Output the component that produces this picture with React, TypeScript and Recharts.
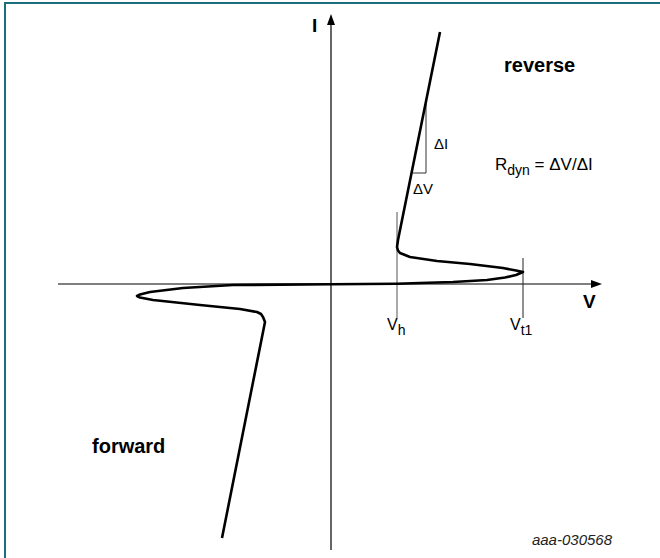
import React from "react";
import { ComposedChart, Line, XAxis, YAxis, ReferenceLine, ReferenceDot } from "recharts";

// Units: V and I in arbitrary diagram units (origin at the axes crossing)
const reverseV = [10.9, 6.7, 6.6, 6.7, 6.9, 7.9, 10.6, 13.9, 17.2, 18.5, 19.2];
const reverseI = [25.2, 4.4, 3.7, 3.35, 3.1, 2.7, 2.3, 2.0, 1.6, 1.35, 1.2];
const returnV = [18.5, 17.4, 15.6, 12.2, 8.9, 6.6, 0, -9.8, -14.8, -18.1, -19.1, -19.4];
const returnI = [0.9, 0.65, 0.4, 0.2, 0.1, 0.03, -0.03, -0.1, -0.4, -0.8, -1.05, -1.2];
const forwardV = [-19.1, -17.8, -13.1, -9.1, -7.4, -7.0, -6.8, -6.6, -10.9];
const forwardI = [-1.35, -1.6, -2.1, -2.5, -2.8, -3.0, -3.3, -3.8, -25.4];

const V_H = 6.6;
const V_T1 = 19.2;
const X_DOMAIN: [number, number] = [-33.1, 32.9];
const Y_DOMAIN: [number, number] = [-27.4, 28.4];

const curve = [
  ...reverseV.map((v, k) => ({ v, i: reverseI[k] })),
  ...returnV.map((v, k) => ({ v, i: returnI[k] })),
  ...forwardV.map((v, k) => ({ v, i: forwardI[k] })),
];

const FONT = "Arial, 'Liberation Sans', sans-serif";

type Part = { t: string; sub?: boolean };

const makeText =
  (parts: Part[], size: number, opts: { bold?: boolean; italic?: boolean; anchor?: string; fill?: string; subSize?: number } = {}) =>
  (props: any) => {
    const { cx, cy } = props;
    return (
      <text
        x={cx}
        y={cy}
        fontFamily={FONT}
        fontSize={size}
        fontWeight={opts.bold ? "bold" : "normal"}
        fontStyle={opts.italic ? "italic" : "normal"}
        textAnchor={opts.anchor || "start"}
        fill={opts.fill || "#000"}
      >
        {parts.map((p, k) =>
          p.sub ? (
            <tspan key={k} fontSize={opts.subSize || size * 0.75} dy={size * 0.3}>
              {p.t}
            </tspan>
          ) : (
            <tspan key={k} dy={k > 0 && parts[k - 1].sub ? -size * 0.3 : 0}>
              {p.t}
            </tspan>
          )
        )}
      </text>
    );
  };

const arrowUp = (props: any) => {
  const { cx, cy } = props;
  return <polygon points={`${cx},${cy} ${cx - 4},${cy + 11} ${cx + 4},${cy + 11}`} fill="#000" />;
};
const arrowRight = (props: any) => {
  const { cx, cy } = props;
  return <polygon points={`${cx},${cy} ${cx - 11},${cy - 4} ${cx - 11},${cy + 4}`} fill="#000" />;
};

export default function App() {
  return (
    <div style={{ position: "absolute", left: 0, top: 0, width: 660, height: 558, background: "#fff" }}>
      <div
        style={{
          position: "absolute",
          left: 4,
          top: 2,
          right: 0,
          bottom: 0,
          borderTop: "2px solid #1c6e7a",
          borderLeft: "2px solid #1c6e7a",
        }}
      />
      <div style={{ position: "absolute", left: 0, top: 0 }}>
        <ComposedChart width={660} height={558} margin={{ top: 0, right: 0, bottom: 0, left: 0 }}>
          <XAxis type="number" dataKey="v" domain={X_DOMAIN} allowDataOverflow hide />
          <YAxis type="number" dataKey="i" domain={Y_DOMAIN} allowDataOverflow hide />
          {/* axes */}
          <ReferenceLine segment={[{ x: 0, y: 26.0 }, { x: 0, y: -26.6 }]} stroke="#000" strokeWidth={1.2} ifOverflow="visible" />
          <ReferenceLine segment={[{ x: -27.3, y: 0 }, { x: 26.2, y: 0 }]} stroke="#000" strokeWidth={1.2} ifOverflow="visible" />
          <ReferenceDot x={0} y={27.0} shape={arrowUp} ifOverflow="visible" />
          <ReferenceDot x={27.1} y={0} shape={arrowRight} ifOverflow="visible" />
          {/* Vh and Vt1 markers */}
          <ReferenceLine segment={[{ x: V_H, y: 7.2 }, { x: V_H, y: -3.4 }]} stroke="#555" strokeWidth={1} ifOverflow="visible" />
          <ReferenceLine segment={[{ x: V_T1, y: 2.6 }, { x: V_T1, y: -3.4 }]} stroke="#222" strokeWidth={1} ifOverflow="visible" />
          {/* slope triangle */}
          <ReferenceLine segment={[{ x: 9.5, y: 18.4 }, { x: 9.5, y: 11.1 }]} stroke="#333" strokeWidth={1} ifOverflow="visible" />
          <ReferenceLine segment={[{ x: 8.2, y: 11.1 }, { x: 9.5, y: 11.1 }]} stroke="#333" strokeWidth={1} ifOverflow="visible" />
          <Line
            data={curve}
            dataKey="i"
            type="linear"
            stroke="#000"
            strokeWidth={2.6}
            dot={false}
            activeDot={false}
            isAnimationActive={false}
            strokeLinejoin="round"
          />
          {/* labels */}
          <ReferenceDot x={-1.9} y={25.2} shape={makeText([{ t: "I" }], 19, { bold: true })} ifOverflow="visible" />
          <ReferenceDot x={25.2} y={-2.4} shape={makeText([{ t: "V" }], 19, { bold: true })} ifOverflow="visible" />
          <ReferenceDot x={17.3} y={21.2} shape={makeText([{ t: "reverse" }], 20, { bold: true })} ifOverflow="visible" />
          <ReferenceDot x={-23.9} y={-16.9} shape={makeText([{ t: "forward" }], 20, { bold: true })} ifOverflow="visible" />
          <ReferenceDot x={10.3} y={13.5} shape={makeText([{ t: "ΔI" }], 15)} ifOverflow="visible" />
          <ReferenceDot x={8.2} y={9.0} shape={makeText([{ t: "ΔV" }], 15)} ifOverflow="visible" />
          <ReferenceDot
            x={16.4}
            y={11.4}
            shape={makeText([{ t: "R" }, { t: "dyn", sub: true }, { t: " = ΔV/ΔI" }], 17, { subSize: 14 })}
            ifOverflow="visible"
          />
          <ReferenceDot
            x={5.6}
            y={-4.6}
            shape={makeText([{ t: "V" }, { t: "h", sub: true }], 16, { subSize: 14 })}
            ifOverflow="visible"
          />
          <ReferenceDot
            x={17.9}
            y={-4.6}
            shape={makeText([{ t: "V" }, { t: "t1", sub: true }], 16, { subSize: 14 })}
            ifOverflow="visible"
          />
          <ReferenceDot
            x={28.1}
            y={-26.1}
            shape={makeText([{ t: "aaa-030568" }], 15, { italic: true, anchor: "end", fill: "#222" })}
            ifOverflow="visible"
          />
        </ComposedChart>
      </div>
    </div>
  );
}
